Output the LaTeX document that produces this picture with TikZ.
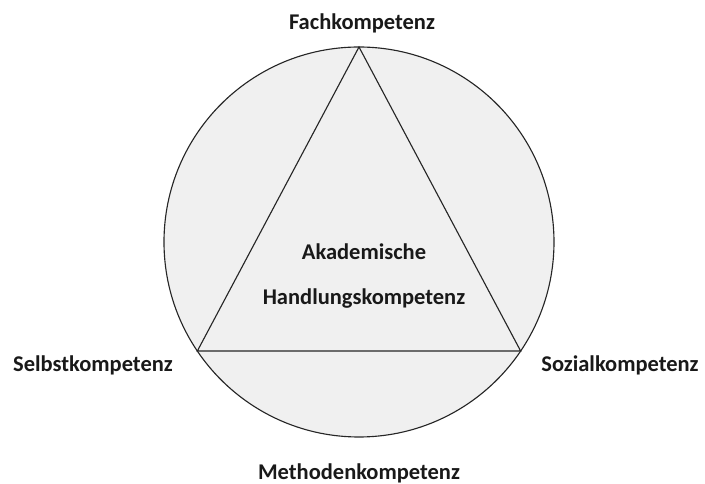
\documentclass[tikz,border=0pt]{standalone}
\usepackage{fontspec}
\setmainfont{Carlito}
\usepackage{tikz}
\usetikzlibrary{positioning}

\begin{document}
\begin{tikzpicture}[
        rim/.style={circle, draw=black!85, fill=black!6, line width=0.8pt, inner sep=0pt, outer sep=0pt, minimum size=9.75cm},
        tri/.style={draw=black!85, fill=black!6, line width=0.8pt, line join=miter},
        label/.style={font=\bfseries\fontsize{16}{19}\selectfont, text=black!90, anchor=base, inner sep=0pt}
    ]
        \useasboundingbox (-8.975,-6.05) rectangle (8.65,6.05);

        % Circle and triangle
        \node[rim] (kreis) at (0,0) {};
        \coordinate (fach) at (kreis.90);
        \coordinate (selbst) at (kreis.214.5);
        \coordinate (sozial) at (kreis.-34.5);
        \draw[tri] (fach) -- (selbst) -- (sozial) -- cycle;

        % Labels
        \node[label] (fachlbl) at (0.075,5.3) {Fachkompetenz};
        \node[label] (selbstlbl) at (-6.65,-3.25) {Selbstkompetenz};
        \node[label] (soziallbl) at (6.525,-3.25) {Sozialkompetenz};
        \node[label] (methlbl) at (0,-5.95) {Methodenkompetenz};
        \node[label] (akad) at (0.125,-0.45) {Akademische};
        \node[label] (handl) at (0.125,-1.575) {Handlungskompetenz};
    \end{tikzpicture}
\end{document}
